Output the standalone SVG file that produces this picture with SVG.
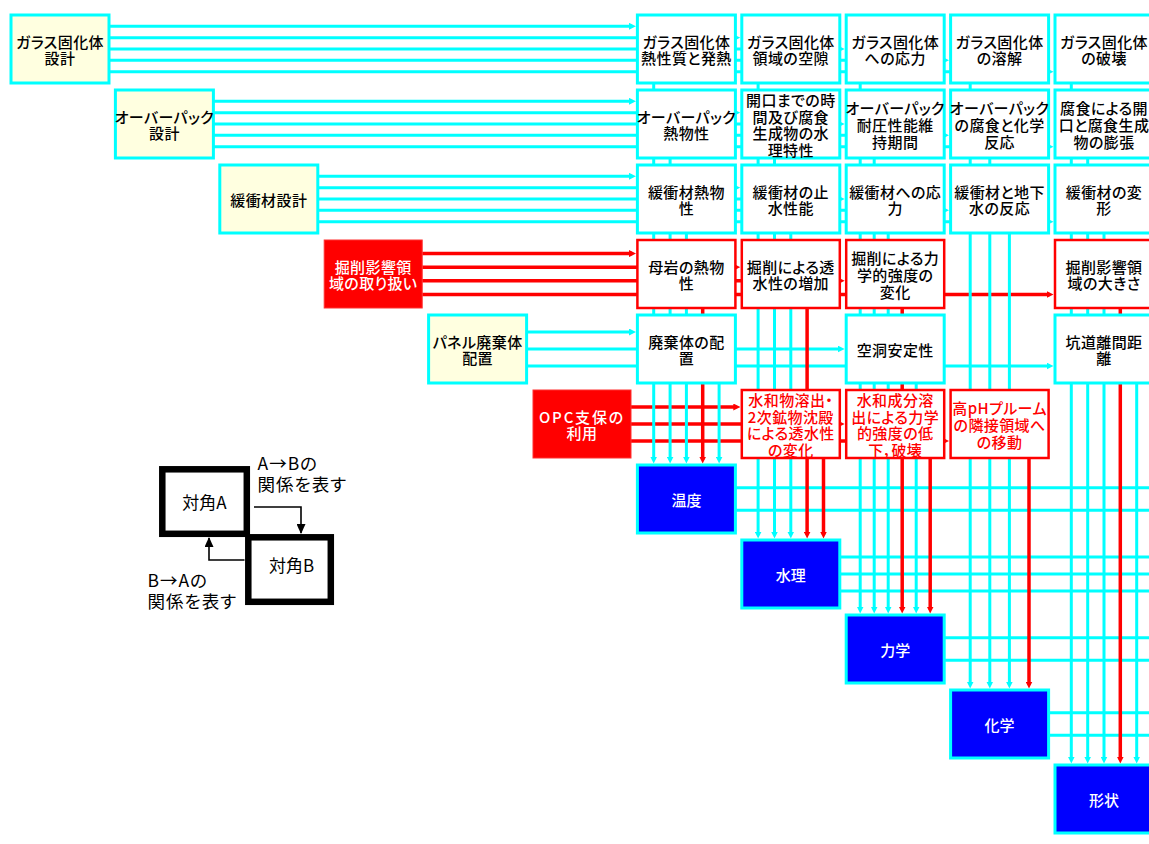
<svg xmlns="http://www.w3.org/2000/svg" width="1149" height="844" viewBox="0 0 1149 844">
<style>
  text { font-family: "Noto Sans CJK JP", "Noto Sans CJK SC", sans-serif; font-feature-settings: "palt"; text-anchor: middle; dominant-baseline: central; }
  .t, .tw, .tr { font-size: 15px; font-weight: 500; letter-spacing: 0.4px; }
  .t { fill: #000; }
  .tw { fill: #fff; }
  .tr { fill: #f00; }
  .tb { font-size: 15px; font-weight: 500; fill: #fff; }
  .w { fill: #fff; stroke: #00ffff; stroke-width: 3; }
  .wr { fill: #fff; stroke: #f00; stroke-width: 2.5; }
  .y { fill: #ffffe0; stroke: #00ffff; stroke-width: 3; }
  .r { fill: #f00; stroke: #ff3030; stroke-width: 1; }
  .b { fill: #0000ff; stroke: #00ffff; stroke-width: 3; }
  .c { stroke: #00ffff; stroke-width: 3; fill: none; }
  .ca { stroke: #00ffff; stroke-width: 3; fill: none; marker-end: url(#ac); }
  .cra { stroke: #f00; stroke-width: 3.5; fill: none; marker-end: url(#ar); }
  .lg { font-size: 17.5px; font-weight: 400; fill: #000; text-anchor: start; letter-spacing: 1px; }
  .lc { font-size: 17px; font-weight: 400; fill: #000; }
  .lgb { fill: #fff; stroke: #000; stroke-width: 6.5; }
  .la { stroke: #000; stroke-width: 1.6; fill: none; marker-end: url(#ak); }
</style>
<defs>
  <marker id="ac" markerUnits="userSpaceOnUse" viewBox="0 0 7 7" markerWidth="7" markerHeight="7" refX="3" refY="3.5" orient="auto">
    <path d="M0,0 L7,3.5 L0,7 z" fill="#00ffff"/>
  </marker>
  <marker id="ar" markerUnits="userSpaceOnUse" viewBox="0 0 7 7" markerWidth="7" markerHeight="7" refX="3" refY="3.5" orient="auto">
    <path d="M0,0 L7,3.5 L0,7 z" fill="#f00"/>
  </marker>
  <marker id="ak" markerUnits="userSpaceOnUse" viewBox="0 0 10 9" markerWidth="10" markerHeight="9" refX="9" refY="4.5" orient="auto">
    <path d="M0,0 L10,4.5 L0,9 z" fill="#000"/>
  </marker>
</defs>

<!-- connectors: horizontal runs from each diagonal item, then vertical runs down to the diagonal -->
<g id="connectors">
  <!-- row 0 -->
  <path class="ca" d="M109,26.3 H632"/>
  <path class="ca" d="M109,37.7 H736.3"/>
  <path class="ca" d="M109,49 H840.7"/>
  <path class="ca" d="M109,60.3 H945.1"/>
  <path class="ca" d="M109,71.7 H1049.5"/>
  <!-- row 1 -->
  <path class="ca" d="M213.4,101.3 H632"/>
  <path class="ca" d="M213.4,112.7 H736.3"/>
  <path class="ca" d="M213.4,124 H840.7"/>
  <path class="ca" d="M213.4,135.3 H945.1"/>
  <path class="ca" d="M213.4,146.7 H1049.5"/>
  <!-- row 2 -->
  <path class="ca" d="M317.8,176.3 H632"/>
  <path class="ca" d="M317.8,187.7 H736.3"/>
  <path class="ca" d="M317.8,199 H840.7"/>
  <path class="ca" d="M317.8,210.3 H945.1"/>
  <path class="ca" d="M317.8,221.7 H1049.5"/>
  <!-- row 3 -->
  <path class="cra" d="M422.2,253.6 H632"/>
  <path class="cra" d="M422.2,267.2 H736.3"/>
  <path class="cra" d="M422.2,280.8 H840.7"/>
  <path class="cra" d="M422.2,294.4 H1049.5"/>
  <!-- row 4 -->
  <path class="ca" d="M526.6,332 H632"/>
  <path class="ca" d="M526.6,349 H840.7"/>
  <path class="ca" d="M526.6,366 H1049.5"/>
  <!-- row 5 -->
  <path class="cra" d="M631,407 H736.3"/>
  <path class="cra" d="M631,424 H840.7"/>
  <path class="cra" d="M631,441 H945.1"/>
  <!-- rows 6-9 continue to the right -->
  <path class="c" d="M735.4,487.7 H1149"/>
  <path class="c" d="M735.4,510.3 H1149"/>
  <path class="c" d="M839.8,557 H1149"/>
  <path class="c" d="M839.8,574 H1149"/>
  <path class="c" d="M839.8,591 H1149"/>
  <path class="c" d="M944.2,637.7 H1149"/>
  <path class="c" d="M944.2,660.3 H1149"/>
  <path class="c" d="M1048.6,712.7 H1149"/>
  <path class="c" d="M1048.6,735.3 H1149"/>

  <!-- column 6 -> 温度 -->
  <path class="ca" d="M653.7,83 V459.5"/>
  <path class="ca" d="M670.1,158 V459.5"/>
  <path class="ca" d="M686.4,233 V459.5"/>
  <path class="cra" d="M702.7,308 V459.5"/>
  <path class="ca" d="M719.1,383 V459.5"/>
  <!-- column 7 -> 水理 -->
  <path class="ca" d="M758.1,83 V534.5"/>
  <path class="ca" d="M774.5,158 V534.5"/>
  <path class="ca" d="M790.8,233 V534.5"/>
  <path class="cra" d="M807.1,308 V534.5"/>
  <path class="cra" d="M823.5,458 V534.5"/>
  <!-- column 8 -> 力学 -->
  <path class="ca" d="M860.2,83 V609.5"/>
  <path class="ca" d="M874.2,158 V609.5"/>
  <path class="ca" d="M888.2,233 V609.5"/>
  <path class="cra" d="M902.2,308 V609.5"/>
  <path class="ca" d="M916.2,383 V609.5"/>
  <path class="cra" d="M930.2,458 V609.5"/>
  <!-- column 9 -> 化学 -->
  <path class="ca" d="M970.2,83 V684.5"/>
  <path class="ca" d="M989.8,158 V684.5"/>
  <path class="ca" d="M1009.4,233 V684.5"/>
  <path class="cra" d="M1029,458 V684.5"/>
  <!-- column 10 -> 形状 -->
  <path class="ca" d="M1071.3,83 V759.5"/>
  <path class="ca" d="M1087.7,158 V759.5"/>
  <path class="ca" d="M1104,233 V759.5"/>
  <path class="cra" d="M1120.3,308 V759.5"/>
  <path class="ca" d="M1136.7,383 V759.5"/>
</g>

<!-- diagonal design items -->
<g id="n00"><rect class="y" x="11" y="15" width="98" height="68"/><text class="t" y="40.7"><tspan x="60">ガラス固化体</tspan><tspan x="60" dy="16.6">設計</tspan></text></g>
<g id="n11"><rect class="y" x="115.4" y="90" width="98" height="68"/><text class="t" y="115.7"><tspan x="164.4">オーバーパック</tspan><tspan x="164.4" dy="16.6">設計</tspan></text></g>
<g id="n22"><rect class="y" x="219.8" y="165" width="98" height="68"/><text class="t" x="268.8" y="199">緩衝材設計</text></g>
<g id="n33"><rect class="r" x="324.2" y="240" width="98" height="68"/><text class="tw" y="265.7"><tspan x="373.2">掘削影響領</tspan><tspan x="373.2" dy="16.6">域の取り扱い</tspan></text></g>
<g id="n44"><rect class="y" x="428.6" y="315" width="98" height="68"/><text class="t" y="340.7"><tspan x="477.6">パネル廃棄体</tspan><tspan x="477.6" dy="16.6">配置</tspan></text></g>
<g id="n55"><rect class="r" x="533" y="390" width="98" height="68"/><text class="tw" y="415.7"><tspan x="582" letter-spacing="1.8">OPC支保の</tspan><tspan x="582" dy="16.6">利用</tspan></text></g>

<!-- row 0 -->
<g id="n06"><rect class="w" x="637.4" y="15" width="98" height="68"/><text class="t" y="40.7"><tspan x="686.4">ガラス固化体</tspan><tspan x="686.4" dy="16.6">熱性質と発熱</tspan></text></g>
<g id="n07"><rect class="w" x="741.8" y="15" width="98" height="68"/><text class="t" y="40.7"><tspan x="790.8">ガラス固化体</tspan><tspan x="790.8" dy="16.6">領域の空隙</tspan></text></g>
<g id="n08"><rect class="w" x="846.2" y="15" width="98" height="68"/><text class="t" y="40.7"><tspan x="895.2">ガラス固化体</tspan><tspan x="895.2" dy="16.6">への応力</tspan></text></g>
<g id="n09"><rect class="w" x="950.6" y="15" width="98" height="68"/><text class="t" y="40.7"><tspan x="999.6">ガラス固化体</tspan><tspan x="999.6" dy="16.6">の溶解</tspan></text></g>
<g id="n010"><rect class="w" x="1055" y="15" width="98" height="68"/><text class="t" y="40.7"><tspan x="1104">ガラス固化体</tspan><tspan x="1104" dy="16.6">の破壊</tspan></text></g>

<!-- row 1 -->
<g id="n16"><rect class="w" x="637.4" y="90" width="98" height="68"/><text class="t" y="115.7"><tspan x="686.4">オーバーパック</tspan><tspan x="686.4" dy="16.6">熱物性</tspan></text></g>
<g id="n17"><rect class="w" x="741.8" y="90" width="98" height="68"/><text class="t" y="99.1"><tspan x="790.8">開口までの時</tspan><tspan x="790.8" dy="16.6">間及び腐食</tspan><tspan x="790.8" dy="16.6">生成物の水</tspan><tspan x="790.8" dy="16.6">理特性</tspan></text></g>
<g id="n18"><rect class="w" x="846.2" y="90" width="98" height="68"/><text class="t" y="107.4"><tspan x="895.2">オーバーパック</tspan><tspan x="895.2" dy="16.6">耐圧性能維</tspan><tspan x="895.2" dy="16.6">持期間</tspan></text></g>
<g id="n19"><rect class="w" x="950.6" y="90" width="98" height="68"/><text class="t" y="107.4"><tspan x="999.6">オーバーパック</tspan><tspan x="999.6" dy="16.6">の腐食と化学</tspan><tspan x="999.6" dy="16.6">反応</tspan></text></g>
<g id="n110"><rect class="w" x="1055" y="90" width="98" height="68"/><text class="t" y="107.4"><tspan x="1104">腐食による開</tspan><tspan x="1104" dy="16.6">口と腐食生成</tspan><tspan x="1104" dy="16.6">物の膨張</tspan></text></g>

<!-- row 2 -->
<g id="n26"><rect class="w" x="637.4" y="165" width="98" height="68"/><text class="t" y="190.7"><tspan x="686.4">緩衝材熱物</tspan><tspan x="686.4" dy="16.6">性</tspan></text></g>
<g id="n27"><rect class="w" x="741.8" y="165" width="98" height="68"/><text class="t" y="190.7"><tspan x="790.8">緩衝材の止</tspan><tspan x="790.8" dy="16.6">水性能</tspan></text></g>
<g id="n28"><rect class="w" x="846.2" y="165" width="98" height="68"/><text class="t" y="190.7"><tspan x="895.2">緩衝材への応</tspan><tspan x="895.2" dy="16.6">力</tspan></text></g>
<g id="n29"><rect class="w" x="950.6" y="165" width="98" height="68"/><text class="t" y="190.7"><tspan x="999.6">緩衝材と地下</tspan><tspan x="999.6" dy="16.6">水の反応</tspan></text></g>
<g id="n210"><rect class="w" x="1055" y="165" width="98" height="68"/><text class="t" y="190.7"><tspan x="1104">緩衝材の変</tspan><tspan x="1104" dy="16.6">形</tspan></text></g>

<!-- row 3 -->
<g id="n36"><rect class="wr" x="637.4" y="240" width="98" height="68"/><text class="t" y="265.7"><tspan x="686.4">母岩の熱物</tspan><tspan x="686.4" dy="16.6">性</tspan></text></g>
<g id="n37"><rect class="wr" x="741.8" y="240" width="98" height="68"/><text class="t" y="265.7"><tspan x="790.8">掘削による透</tspan><tspan x="790.8" dy="16.6">水性の増加</tspan></text></g>
<g id="n38"><rect class="wr" x="846.2" y="240" width="98" height="68"/><text class="t" y="257.4"><tspan x="895.2">掘削による力</tspan><tspan x="895.2" dy="16.6">学的強度の</tspan><tspan x="895.2" dy="16.6">変化</tspan></text></g>
<g id="n310"><rect class="wr" x="1055" y="240" width="98" height="68"/><text class="t" y="265.7"><tspan x="1104">掘削影響領</tspan><tspan x="1104" dy="16.6">域の大きさ</tspan></text></g>

<!-- row 4 -->
<g id="n46"><rect class="w" x="637.4" y="315" width="98" height="68"/><text class="t" y="340.7"><tspan x="686.4">廃棄体の配</tspan><tspan x="686.4" dy="16.6">置</tspan></text></g>
<g id="n48"><rect class="w" x="846.2" y="315" width="98" height="68"/><text class="t" x="895.2" y="349">空洞安定性</text></g>
<g id="n410"><rect class="w" x="1055" y="315" width="98" height="68"/><text class="t" y="340.7"><tspan x="1104">坑道離間距</tspan><tspan x="1104" dy="16.6">離</tspan></text></g>

<!-- row 5 -->
<g id="n57"><rect class="wr" x="741.8" y="390" width="98" height="68"/><text class="tr" y="399.1"><tspan x="790.8">水和物溶出・</tspan><tspan x="790.8" dy="16.6">2次鉱物沈殿</tspan><tspan x="790.8" dy="16.6">による透水性</tspan><tspan x="790.8" dy="16.6">の変化</tspan></text></g>
<g id="n58"><rect class="wr" x="846.2" y="390" width="98" height="68"/><text class="tr" y="399.1"><tspan x="895.2">水和成分溶</tspan><tspan x="895.2" dy="16.6">出による力学</tspan><tspan x="895.2" dy="16.6">的強度の低</tspan><tspan x="895.2" dy="16.6">下，破壊</tspan></text></g>
<g id="n59"><rect class="wr" x="950.6" y="390" width="98" height="68"/><text class="tr" y="407.4"><tspan x="999.6">高pHプルーム</tspan><tspan x="999.6" dy="16.6">の隣接領域へ</tspan><tspan x="999.6" dy="16.6">の移動</tspan></text></g>

<!-- diagonal result items -->
<g id="n66"><rect class="b" x="637.4" y="465" width="98" height="68"/><text class="tb" x="686.4" y="499">温度</text></g>
<g id="n77"><rect class="b" x="741.8" y="540" width="98" height="68"/><text class="tb" x="790.8" y="574">水理</text></g>
<g id="n88"><rect class="b" x="846.2" y="615" width="98" height="68"/><text class="tb" x="895.2" y="649">力学</text></g>
<g id="n99"><rect class="b" x="950.6" y="690" width="98" height="68"/><text class="tb" x="999.6" y="724">化学</text></g>
<g id="n1010"><rect class="b" x="1055" y="765" width="98" height="68"/><text class="tb" x="1104" y="799">形状</text></g>

<!-- legend -->
<g id="legend">
  <rect class="lgb" x="162.3" y="469.3" width="84.5" height="64.5"/>
  <rect class="lgb" x="248.3" y="537.3" width="82.5" height="64.5"/>
  <text class="lc" x="204.5" y="501.5">対角A</text>
  <text class="lc" x="291.5" y="564.5">対角B</text>
  <path class="la" d="M254,507 H301 V533"/>
  <path class="la" d="M244.5,560 H209 V538"/>
  <text class="lg" x="257.5" y="462">A→Bの<tspan x="257.5" dy="20.5">関係を表す</tspan></text>
  <text class="lg" x="147.5" y="579">B→Aの<tspan x="147.5" dy="20.5">関係を表す</tspan></text>
</g>
</svg>
